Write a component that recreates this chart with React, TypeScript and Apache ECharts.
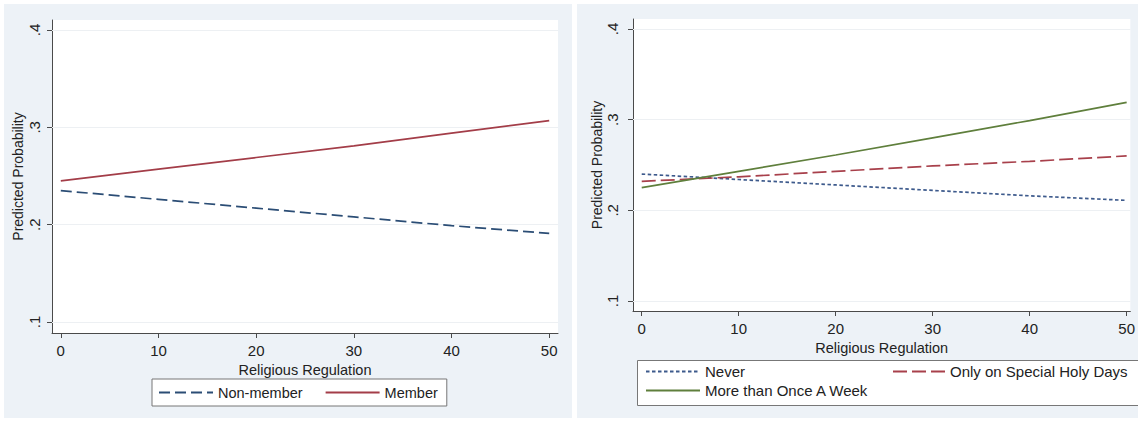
import React, { useEffect, useRef } from "react";
import * as echarts from "echarts";

const xTicks = [0, 10, 20, 30, 40, 50];
const yTicks = [0.1, 0.2, 0.3, 0.4];

// Left panel
const nonMember = [0.235, 0.226, 0.217, 0.208, 0.199, 0.191];
const member = [0.245, 0.257, 0.269, 0.281, 0.294, 0.307];

// Right panel
const never = [0.24, 0.234, 0.228, 0.222, 0.216, 0.211];
const holyDays = [0.232, 0.237, 0.243, 0.249, 0.254, 0.26];
const weekly = [0.225, 0.243, 0.261, 0.28, 0.299, 0.319];

const FONT = "'Liberation Sans', Arial, sans-serif";
const TXT = "#222";
const AX = "#4a4a4a";

const pair = (vals: number[]) => xTicks.map((x, i) => [x, vals[i]]);
const fmtY = (v: number) => v.toFixed(1).replace(/^0/, "");

export default function App() {
  const ref = useRef<HTMLDivElement>(null);
  useEffect(() => {
    document.body.style.margin = "0";
    if (!ref.current) return;
    const chart = echarts.init(ref.current, undefined, { renderer: "svg" });

    const xAxisBase = (gridIndex: number, max: number, labelMargin: number, nameGap: number) => ({
      type: "value",
      gridIndex,
      min: -0.9,
      max,
      name: "Religious Regulation",
      nameLocation: "middle",
      nameGap,
      nameTextStyle: { fontFamily: FONT, fontSize: 14.5, color: TXT },
      axisLine: { show: true, onZero: false, lineStyle: { color: AX, width: 1 } },
      axisTick: { show: true, length: 5, lineStyle: { color: AX }, customValues: xTicks },
      axisLabel: { fontFamily: FONT, fontSize: 15, color: TXT, margin: labelMargin, customValues: xTicks },
      splitLine: { show: false },
    });
    const yAxisBase = (gridIndex: number, min: number, max: number, labelMargin: number, nameGap: number) => ({
      type: "value",
      gridIndex,
      min,
      max,
      name: "Predicted Probability",
      nameLocation: "middle",
      nameGap,
      nameTextStyle: { fontFamily: FONT, fontSize: 14, color: TXT },
      axisLine: { show: true, onZero: false, lineStyle: { color: AX, width: 1 } },
      axisTick: { show: true, length: 5, lineStyle: { color: AX }, customValues: yTicks },
      axisLabel: {
        fontFamily: FONT,
        fontSize: 15,
        color: TXT,
        rotate: 90,
        margin: labelMargin,
        customValues: yTicks,
        formatter: fmtY,
      },
      splitLine: { show: false },
    });

    const gridLines = {
      silent: true,
      z: 1,
      symbol: ["none", "none"],
      label: { show: false },
      lineStyle: { color: "#edf0f3", width: 1, type: "solid" },
      data: yTicks.map((v) => ({ yAxis: v })),
    };

    const lineSeries = (name: string, xi: number, vals: number[], color: string, type: any, extra: any = {}) => ({
      type: "line",
      name,
      xAxisIndex: xi,
      yAxisIndex: xi,
      data: pair(vals),
      showSymbol: false,
      symbol: "none",
      lineStyle: { color, width: 1.7, type },
      itemStyle: { color },
      z: 3,
      ...extra,
    });

    const legendText = { fontFamily: FONT, fontSize: 14.5, color: TXT };
    const noSymbol = { opacity: 0, borderWidth: 0 };

    chart.setOption({
      animation: false,
      backgroundColor: "#ffffff",
      graphic: [
        { type: "rect", z: -100, shape: { x: 4, y: 4, width: 568, height: 414 }, style: { fill: "#edf2f7" } },
        { type: "rect", z: -100, shape: { x: 577, y: 4, width: 565, height: 414 }, style: { fill: "#edf2f7" } },
        {
          type: "rect",
          z: 1,
          shape: { x: 637.5, y: 360.5, width: 520, height: 45 },
          style: { fill: "#ffffff", stroke: "#777", lineWidth: 1 },
        },
      ],
      grid: [
        { left: 52, top: 20, width: 506, height: 313, show: true, backgroundColor: "#fff", borderWidth: 0 },
        { left: 633, top: 19, width: 501, height: 292, show: true, backgroundColor: "#fff", borderWidth: 0 },
      ],
      xAxis: [xAxisBase(0, 50.9, 10, 23), xAxisBase(1, 50.38, 10, 23)],
      yAxis: [yAxisBase(0, 0.0887, 0.4103, 10, 27), yAxisBase(1, 0.089, 0.411, 13, 27)],
      legend: [
        {
          data: ["Non-member", "Member"],
          left: 152,
          top: 379,
          orient: "horizontal",
          itemWidth: 54,
          itemHeight: 14,
          itemGap: 22,
          padding: [6, 9, 6, 6],
          backgroundColor: "#fff",
          borderColor: "#777",
          borderWidth: 1,
          itemStyle: noSymbol,
          textStyle: legendText,
          selectedMode: false,
        },
        {
          data: ["Never", "More than Once A Week"],
          left: 645,
          top: 364,
          orient: "vertical",
          itemWidth: 54,
          itemHeight: 14,
          itemGap: 4,
          padding: 0,
          itemStyle: noSymbol,
          textStyle: { ...legendText, fontSize: 15 },
          selectedMode: false,
        },
        {
          data: ["Only on Special Holy Days"],
          left: 892,
          top: 364,
          orient: "horizontal",
          itemWidth: 52,
          itemHeight: 14,
          padding: 0,
          itemStyle: noSymbol,
          textStyle: { ...legendText, fontSize: 15 },
          selectedMode: false,
        },
      ],
      series: [
        lineSeries("Non-member", 0, nonMember, "#2b4d75", [11, 5], { markLine: gridLines, z: 2 }),
        lineSeries("Member", 0, member, "#a33d48", "solid"),
        lineSeries("Never", 1, never, "#3d5a8c", [3.5, 2.5], { markLine: gridLines, z: 2 }),
        lineSeries("Only on Special Holy Days", 1, holyDays, "#a8404b", [14, 5]),
        lineSeries("More than Once A Week", 1, weekly, "#5f7f3c", "solid"),
      ],
    });
    return () => chart.dispose();
  }, []);
  return <div ref={ref} style={{ width: 1138, height: 423 }} />;
}
